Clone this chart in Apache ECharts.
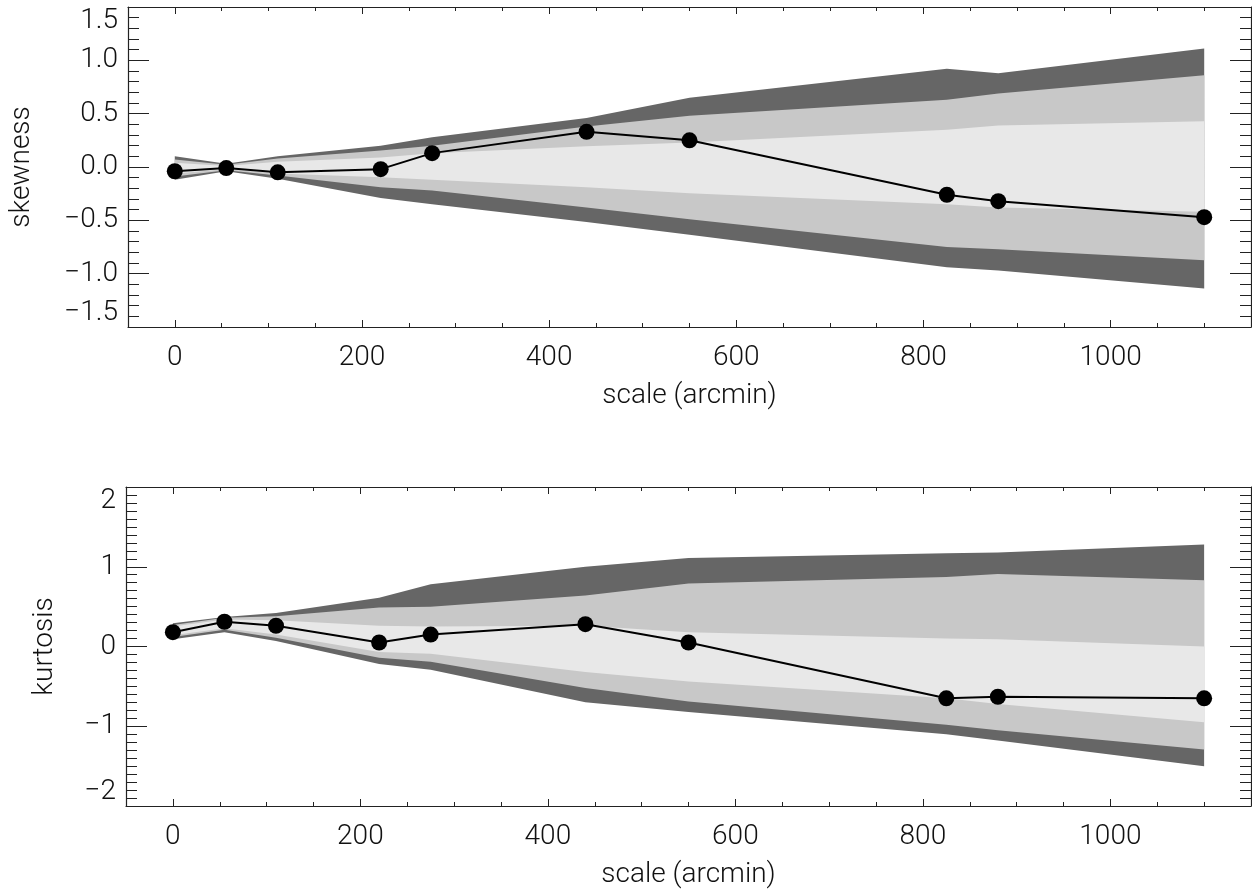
<!DOCTYPE html>
<html><head><meta charset="utf-8">
<script src="https://cdn.jsdelivr.net/npm/echarts@6/dist/echarts.min.js"></script>
<style>html,body{margin:0;padding:0;background:#fff}#c{width:1252px;height:890px}</style>
</head><body><div id="c"></div>
<script>
// ---- data ----
const scales = [0, 55, 110, 220, 275, 440, 550, 825, 880, 1100];
const xTicks = [0, 200, 400, 600, 800, 1000];

const skewness      = [-0.04, -0.01, -0.05, -0.02, 0.13, 0.33, 0.25, -0.26, -0.32, -0.47];
const skewDarkHi    = [0.10, 0.03, 0.10, 0.20, 0.28, 0.46, 0.65, 0.92, 0.88, 1.11];
const skewMedHi     = [0.07, 0.02, 0.08, 0.155, 0.20, 0.38, 0.48, 0.63, 0.69, 0.86];
const skewLightHi   = [0.04, 0.01, 0.05, 0.09, 0.13, 0.195, 0.23, 0.35, 0.39, 0.43];
const skewLightLo   = [-0.06, -0.02, -0.06, -0.095, -0.12, -0.19, -0.245, -0.35, -0.38, -0.42];
const skewMedLo     = [-0.09, -0.03, -0.08, -0.19, -0.22, -0.38, -0.49, -0.75, -0.77, -0.875];
const skewDarkLo    = [-0.12, -0.04, -0.11, -0.29, -0.35, -0.515, -0.635, -0.94, -0.97, -1.14];

const kurtosis      = [0.18, 0.31, 0.26, 0.05, 0.15, 0.28, 0.05, -0.65, -0.63, -0.65];
const kurtDarkHi    = [0.29, 0.37, 0.42, 0.61, 0.78, 1.00, 1.11, 1.17, 1.18, 1.28];
const kurtMedHi     = [0.27, 0.36, 0.38, 0.49, 0.50, 0.64, 0.79, 0.87, 0.91, 0.83];
const kurtLightHi   = [0.25, 0.34, 0.33, 0.26, 0.25, 0.26, 0.18, 0.10, 0.09, 0.00];
const kurtLightLo   = [0.14, 0.23, 0.15, -0.07, -0.09, -0.32, -0.44, -0.65, -0.72, -0.95];
const kurtMedLo     = [0.12, 0.21, 0.11, -0.14, -0.19, -0.52, -0.69, -0.98, -1.05, -1.29];
const kurtDarkLo    = [0.09, 0.18, 0.07, -0.22, -0.29, -0.70, -0.82, -1.10, -1.18, -1.50];

// ---- styling ----
const F = "'DejaVu Sans ExtraLight', Roboto, sans-serif";
const TXT = {fontFamily: F, fontWeight: 300, fontSize: 28, color: '#111'};
const AX = '#222';
const DARK = '#666666', MED = '#c8c8c8', LIGHT = '#e8e8e8';

function minus(s) { return s.replace('-', '\u2212'); }

function xAxis(grid, pos, main) {
  return {
    type: 'value', gridIndex: grid, position: pos, min: -50, max: 1150,
    axisLine: {show: true, onZero: false, lineStyle: {color: AX, width: 1.2}},
    axisTick: {show: true, inside: true, length: 7, lineStyle: {color: AX, width: 1}},
    minorTick: {show: true, splitNumber: 4, length: 4, lineStyle: {color: AX, width: 1}},
    splitLine: {show: false}, minorSplitLine: {show: false},
    axisLabel: Object.assign({show: main, showMinLabel: false, showMaxLabel: false, margin: 17,
      formatter: v => xTicks.indexOf(v) >= 0 ? String(v) : ''}, TXT),
    name: main ? 'scale (arcmin)' : '', nameLocation: 'middle', nameGap: 55,
    nameTextStyle: TXT
  };
}
function yAxis(grid, pos, main, cfg) {
  return {
    type: 'value', gridIndex: grid, position: pos, min: cfg.min, max: cfg.max, interval: cfg.interval,
    axisLine: {show: true, onZero: false, lineStyle: {color: AX, width: 1.2}},
    axisTick: {show: true, inside: true, length: 21, lineStyle: {color: AX, width: 1}},
    minorTick: {show: true, splitNumber: cfg.minor, length: 11, lineStyle: {color: AX, width: 1}},
    splitLine: {show: false}, minorSplitLine: {show: false},
    axisLabel: Object.assign({show: main, margin: 10, formatter: cfg.fmt,
      verticalAlignMaxLabel: 'top', verticalAlignMinLabel: 'bottom'}, TXT),
    name: main ? cfg.name : '', nameLocation: 'middle', nameGap: cfg.gap,
    nameTextStyle: TXT
  };
}
const skewCfg = {min: -1.5, max: 1.5, interval: 0.5, minor: 5, name: 'skewness', gap: 92,
  fmt: v => minus(v.toFixed(1)).replace('\u22120.0', '0.0')};
const kurtCfg = {min: -2, max: 2, interval: 1, minor: 10, name: 'kurtosis', gap: 67,
  fmt: v => minus(String(v))};

function band(hi, lo, color, xi, yi) {
  return {
    type: 'custom', xAxisIndex: xi, yAxisIndex: yi, silent: true, clip: true,
    encode: {x: 0, y: [1, 2]},
    data: scales.map((x, i) => [x, hi[i], lo[i]]),
    renderItem: function (params, api) {
      if (params.dataIndex !== 0) return null;
      const pts = [];
      for (let i = 0; i < scales.length; i++) pts.push(api.coord([scales[i], hi[i]]));
      for (let i = scales.length - 1; i >= 0; i--) pts.push(api.coord([scales[i], lo[i]]));
      return {type: 'polygon', shape: {points: pts}, style: {fill: color, stroke: null}};
    }
  };
}
function line(vals, xi, yi) {
  return {
    type: 'line', xAxisIndex: xi, yAxisIndex: yi, z: 10,
    data: scales.map((x, i) => [x, vals[i]]),
    symbol: 'circle', symbolSize: 16, showSymbol: true,
    itemStyle: {color: '#000', borderWidth: 0},
    lineStyle: {color: '#000', width: 2}
  };
}

const chart = echarts.init(document.getElementById('c'));
chart.setOption({
  animation: false,
  backgroundColor: '#fff',
  grid: [
    {left: 126, top: 7, width: 1125, height: 320},
    {left: 126, top: 487, width: 1125, height: 320}
  ],
  xAxis: [xAxis(0, 'bottom', true), xAxis(0, 'top', false), xAxis(1, 'bottom', true), xAxis(1, 'top', false)],
  yAxis: [yAxis(0, 'left', true, skewCfg), yAxis(0, 'right', false, skewCfg),
          yAxis(1, 'left', true, kurtCfg), yAxis(1, 'right', false, kurtCfg)],
  series: [
    band(skewDarkHi, skewDarkLo, DARK, 0, 0),
    band(skewMedHi, skewMedLo, MED, 0, 0),
    band(skewLightHi, skewLightLo, LIGHT, 0, 0),
    line(skewness, 0, 0),
    band(kurtDarkHi, kurtDarkLo, DARK, 2, 2),
    band(kurtMedHi, kurtMedLo, MED, 2, 2),
    band(kurtLightHi, kurtLightLo, LIGHT, 2, 2),
    line(kurtosis, 2, 2)
  ]
});
</script></body></html>
